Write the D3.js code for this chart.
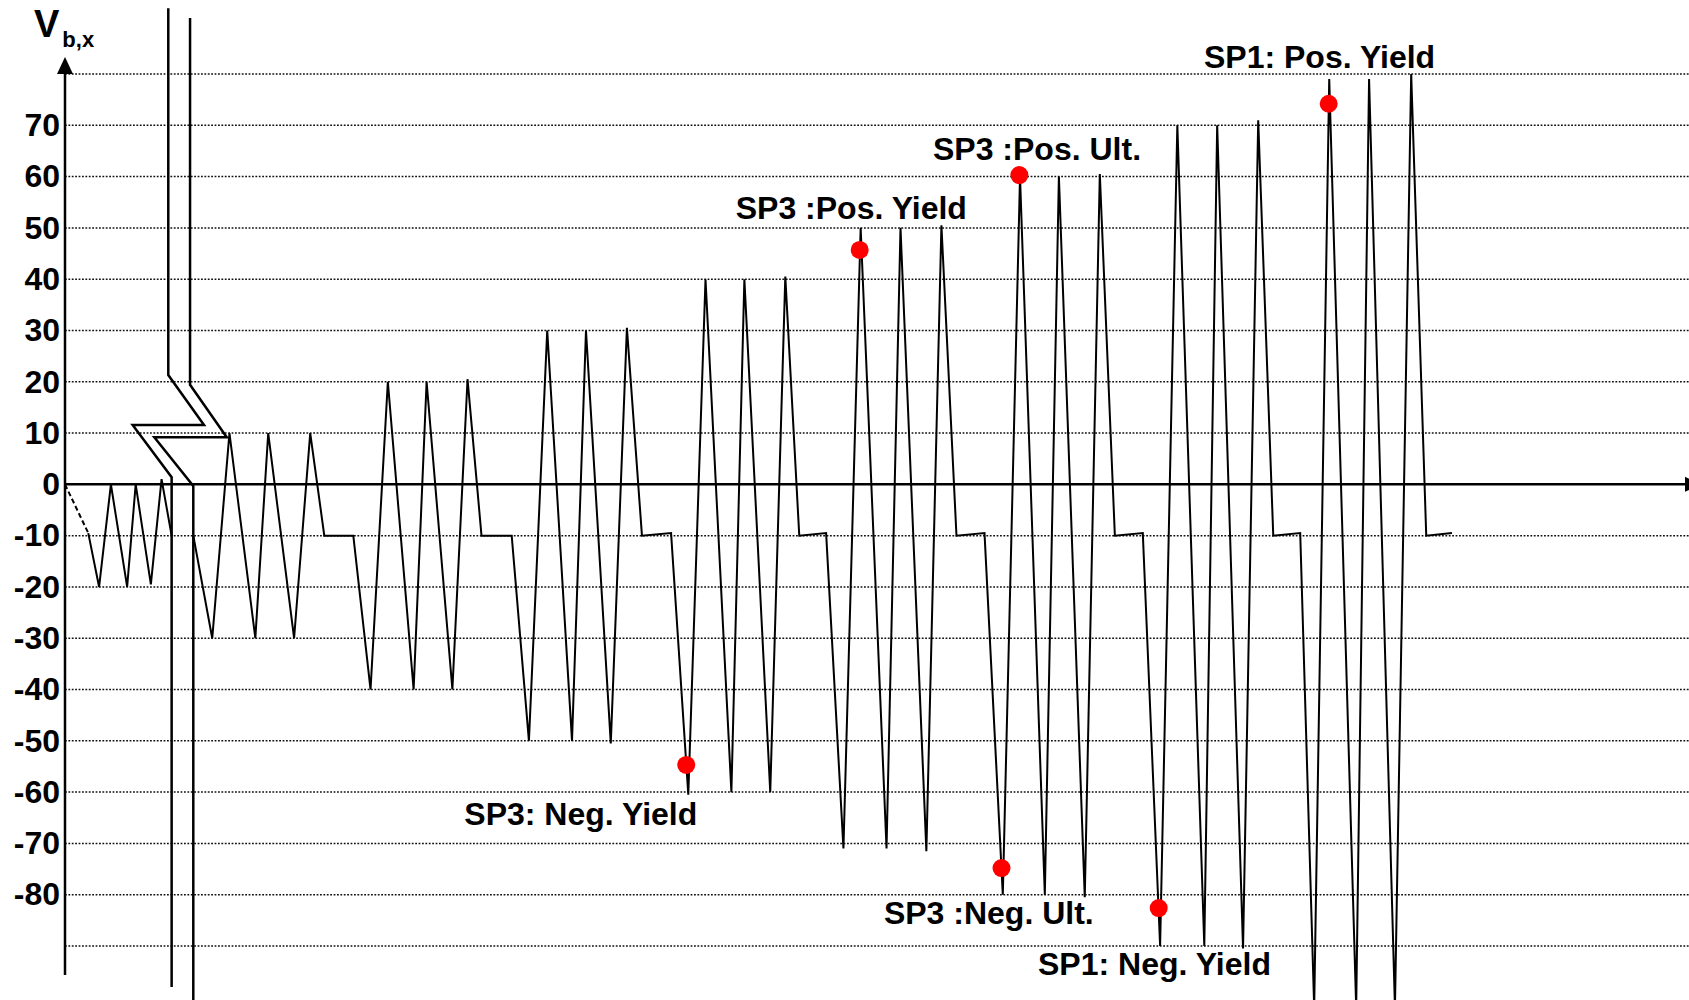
<!DOCTYPE html>
<html lang="en">
<head>
<meta charset="UTF-8">
<title>Vb,x loading history</title>
<script src="https://d3js.org/d3.v7.min.js"></script>
<style>
    body { margin: 0; background: #fff; }
    svg { display: block; }
    text { font-family: "Liberation Sans", Arial, sans-serif; font-weight: bold; fill: #000; }
    .grid { stroke: #111; stroke-width: 1.5; stroke-dasharray: 1.8,1.6; }
    .series { fill: none; stroke: #000; stroke-width: 2; stroke-linejoin: miter; }
    .brk { fill: none; stroke: #000; stroke-width: 2.5; }
    .axis-line { stroke: #000; stroke-width: 2.5; }
</style>
</head>
<body>
<div id="chart"></div>
<script>
// loading history (t = pseudo time, v = Vb,x)
var dashT = [0, 2.15];
var dashV = [0, -9.5];

var preT = [2.15, 3.15, 4.24, 5.74, 6.53, 7.93, 8.92, 9.85];
var preV = [-9.5, -20, 0, -20, 0, -19.5, 1, -10];

var postT = [11.85, 13.60, 15.19, 17.58, 18.77, 21.16, 22.65, 23.95, 26.63,
    28.22, 29.82, 32.20, 33.40, 35.78, 37.18, 38.47, 41.26,
    42.85, 44.54, 46.83, 48.12, 50.41, 51.90, 53.29, 55.98,
    57.57, 59.16, 61.55, 62.75, 65.14, 66.53, 67.82, 70.30,
    71.90, 73.49, 75.88, 77.17, 79.56, 80.95, 82.34, 84.93,
    86.62, 88.21, 90.50, 91.80, 94.19, 95.58, 96.97, 99.55,
    101.15, 102.74, 105.23, 106.42, 108.81, 110.21, 111.60, 114.09,
    115.38, 116.77, 119.26, 120.45, 122.84, 124.34, 125.73, 128.11];
var postV = [-10, -30, 10, -30, 10, -30, 10, -10, -10,
    -40, 20, -40, 20, -40, 20.5, -10, -10,
    -50, 30, -50, 30, -50.5, 30.5, -10, -9.5,
    -60.5, 40, -60, 40, -60, 40.5, -10, -9.5,
    -71, 50, -71, 50, -71.5, 50.5, -10, -9.5,
    -80, 60, -80, 60, -80.5, 60.5, -10, -9.5,
    -90, 70, -90, 70, -90.5, 71, -10, -9.5,
    -102, 79, -102, 79, -102, 80, -10, -9.5];

// marked points
var markT = [57.38, 73.40, 88.15, 86.50, 101.02, 116.72];
var markV = [-54.7, 45.7, 60.3, -74.8, -82.6, 74.2];

// annotation labels (left edge / baseline in data units)
var labelText = ["SP3: Neg. Yield", "SP3 :Pos. Yield", "SP3 :Pos. Ult.",
    "SP3 :Neg. Ult.", "SP1: Neg. Yield", "SP1: Pos. Yield"];
var labelT = [36.88, 61.95, 80.17, 75.64, 89.87, 105.2];
var labelV = [-66.4, 51.8, 63.3, -85.7, -95.7, 81.2];

// axis break symbol (two Z-shaped lines)
var breakAT = [9.54, 9.54, 12.84, 6.25, 9.85, 9.85];
var breakAV = [92.8, 21.3, 11.56, 11.56, 1.4, -98];
var breakBT = [11.55, 11.55, 14.94, 8.25, 11.85, 11.85];
var breakBV = [90.9, 19.4, 9.2, 9.2, -0.3, -101];

var tickVals = d3.range(-80, 80, 10);
var gridVals = d3.range(-90, 90, 10).filter(function(d) { return d !== 0; });

var W = 1689, H = 1000;

var svg = d3.select("#chart").append("svg")
    .attr("width", W)
    .attr("height", H);

var x = d3.scaleLinear().domain([0, 150]).range([65, 1689]);
var y = d3.scaleLinear().domain([-90, 80]).range([946, 74]);

function pts(ts, vs) {
    return ts.map(function(t, i) { return [t, vs[i]]; });
}
var line = d3.line()
    .x(function(d) { return x(d[0]); })
    .y(function(d) { return y(d[1]); });

// grid
svg.append("g").selectAll("line")
    .data(gridVals)
    .enter().append("line")
    .attr("class", "grid")
    .attr("x1", x(0))
    .attr("x2", W)
    .attr("y1", function(d) { return y(d); })
    .attr("y2", function(d) { return y(d); });

// y tick labels (plain hyphen like the original)
var yAxis = d3.axisLeft(y).tickValues(tickVals).tickSize(0).tickPadding(5)
    .tickFormat(function(d) { return String(d); });
var gy = svg.append("g")
    .attr("transform", "translate(" + x(0) + ",0)")
    .call(yAxis);
gy.select(".domain").remove();
gy.selectAll("text")
    .attr("font-size", 32)
    .attr("font-family", "Liberation Sans, Arial, sans-serif")
    .attr("font-weight", "bold")
    .attr("fill", "#000");

// axes
svg.append("line").attr("class", "axis-line")
    .attr("x1", x(0)).attr("x2", W - 4)
    .attr("y1", y(0)).attr("y2", y(0));
svg.append("path")
    .attr("d", "M" + (W - 4) + "," + (y(0) - 7.5) + "L" + (W + 12) + "," + y(0) + "L" + (W - 4) + "," + (y(0) + 7.5) + "Z")
    .attr("fill", "#000");

svg.append("line").attr("class", "axis-line")
    .attr("x1", x(0)).attr("x2", x(0))
    .attr("y1", 975).attr("y2", y(80));
svg.append("path")
    .attr("d", "M" + (x(0) - 8) + "," + y(80) + "L" + x(0) + "," + (y(80) - 17) + "L" + (x(0) + 8) + "," + y(80) + "Z")
    .attr("fill", "#000");

// y label
var yl = svg.append("text").attr("x", 34).attr("y", 37);
yl.append("tspan").attr("font-size", 38).text("V");
yl.append("tspan").attr("font-size", 22).attr("dx", 3).attr("dy", 10).text("b,x");

// break symbol
svg.append("path").attr("class", "brk").attr("d", line(pts(breakAT, breakAV)));
svg.append("path").attr("class", "brk").attr("d", line(pts(breakBT, breakBV)));

// series
svg.append("path").attr("class", "series")
    .attr("stroke-dasharray", "5,3")
    .attr("d", line(pts(dashT, dashV)));
svg.append("path").attr("class", "series").attr("d", line(pts(preT, preV)));
svg.append("path").attr("class", "series").attr("d", line(pts(postT, postV)));

// marked points
svg.append("g").selectAll("circle")
    .data(pts(markT, markV))
    .enter().append("circle")
    .attr("cx", function(d) { return x(d[0]); })
    .attr("cy", function(d) { return y(d[1]); })
    .attr("r", 9)
    .attr("fill", "#ff0000");

// labels
svg.append("g").selectAll("text")
    .data(labelText)
    .enter().append("text")
    .attr("x", function(d, i) { return x(labelT[i]); })
    .attr("y", function(d, i) { return y(labelV[i]); })
    .attr("font-size", 32)
    .text(function(d) { return d; });
</script>
</body>
</html>
